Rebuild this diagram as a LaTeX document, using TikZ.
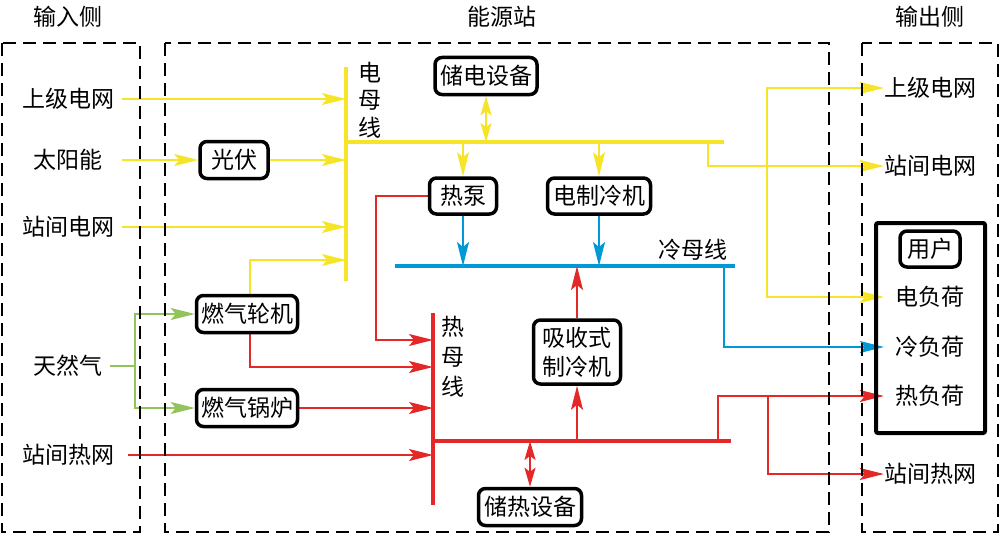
\documentclass[tikz,border=0pt]{standalone}
\usepackage{fontspec}
\newfontfamily\cjk{Noto Sans CJK SC}
\usetikzlibrary{arrows.meta,calc}
\pgfdeclarelayer{bg}
\pgfsetlayers{bg,main}
\definecolor{elec}{RGB}{246,228,40}
\definecolor{cold}{RGB}{0,153,214}
\definecolor{heat}{RGB}{228,40,40}
\definecolor{gas}{RGB}{146,196,92}
\begin{document}
\begin{tikzpicture}[x=1pt,y=-1pt,
  txt/.style={font=\cjk\fontsize{23}{27}\selectfont, inner sep=2pt},
  dev/.style={txt, draw=black, line width=3.5pt, rounded corners=7pt, fill=white, minimum height=37pt, inner sep=1pt},
  region/.style={draw=black, line width=1.5pt, dash pattern=on 13pt off 7pt},
  conn/.style={line width=2pt, -{Stealth[length=24pt,width=12pt,inset=5pt]}},
  dconn/.style={line width=2pt, {Stealth[length=19pt,width=11pt,inset=4pt]}-{Stealth[length=19pt,width=11pt,inset=4pt]}},
  bus/.style={line width=4.5pt},
  outl/.style={txt, minimum width=92pt, inner sep=0pt},
]
\useasboundingbox (0,0) rectangle (1000,535);

% regions
\draw[region] (2,43) rectangle (140,532);
\draw[region] (165,43) rectangle (829,532);
\draw[region] (862,43) rectangle (998,532);

% titles
\node[txt] (tin) at (68,17) {输入侧};
\node[txt] (tst) at (502,17) {能源站};
\node[txt] (tout) at (930,17) {输出侧};

% input labels
\node[txt, minimum width=108pt] (in1) at (68,99) {上级电网};
\node[txt, minimum width=108pt] (in2) at (68,160) {太阳能};
\node[txt, minimum width=108pt] (in3) at (68,227) {站间电网};
\node[txt, minimum width=84pt] (in4) at (68,366) {天然气};
\node[txt, minimum width=120pt] (in5) at (68,455) {站间热网};

% devices
\node[dev, minimum width=68pt] (pv) at (234,160) {光伏};
\node[dev, minimum width=101pt] (gt) at (247,314) {燃气轮机};
\node[dev, minimum width=101pt] (gb) at (247,408) {燃气锅炉};
\node[dev, minimum width=102pt] (es) at (486,76) {储电设备};
\node[dev, minimum width=67pt, minimum height=36pt] (hp) at (463,196) {热泵};
\node[dev, minimum width=103pt, minimum height=36pt] (ec) at (599,196) {电制冷机};
\node[dev, minimum width=87pt, minimum height=64pt, align=center, font=\cjk\fontsize{23}{29}\selectfont] (ac) at (577,352) {吸收式\\制冷机};
\node[dev, minimum width=103pt] (hs) at (530,507) {储热设备};

% bus labels
\node[txt, align=center, font=\cjk\fontsize{23}{27.5}\selectfont] (ebl) at (370,100) {电\\母\\线};
\node[txt, align=center, font=\cjk\fontsize{23}{30}\selectfont] (hbl) at (453,357) {热\\母\\线};
\node[txt] (cbl) at (693,250) {冷母线};

% output side
\node[outl] (o1) at (930,88) {上级电网};
\node[outl] (o2) at (930,166) {站间电网};
\node[draw=black, line width=4pt, rounded corners=2pt, minimum width=109pt, minimum height=210pt] (user) at (930.5,328) {};
\node[dev, minimum width=60pt, minimum height=36pt] (yh) at (930,249) {用户};
\node[outl] (l1) at (930,297) {电负荷};
\node[outl] (l2) at (930,347) {冷负荷};
\node[outl] (l3) at (930,396) {热负荷};
\node[outl] (o3) at (930,474) {站间热网};

% bus coordinates
\coordinate (ebT) at (346,67);
\coordinate (ebB) at (346,281);
\coordinate (ebJ) at (346,142);
\coordinate (ebR) at (724,142);
\coordinate (cbL) at (395,266);
\coordinate (cbR) at (735,266);
\coordinate (hbT) at (433,313);
\coordinate (hbB) at (433,505);
\coordinate (hbJ) at (433,441);
\coordinate (hbR) at (731,441);
\coordinate (gtE) at (346,260);
\coordinate (gtH) at (433,367);
\coordinate (hpc) at (376,340);
\coordinate (gs) at (135,366);
\coordinate (ybr) at (708,142);
\coordinate (yv) at (767,166);
\coordinate (cb1) at (724,266);
\coordinate (hb1) at (718,441);
\coordinate (hb2) at (768,396);

\begin{pgfonlayer}{bg}
% buses
\draw[elec,bus] (ebT) -- (ebB);
\draw[elec,bus] (ebJ) -- (ebR);
\draw[cold,bus] (cbL) -- (cbR);
\draw[heat,bus] (hbT) -- (hbB);
\draw[heat,bus] (hbJ) -- (hbR);

% electricity
\draw[elec,conn] (in1.east) -- (in1.east -| ebT);
\draw[elec,conn] (in2.east) -- (pv.west);
\draw[elec,conn] (pv.east) -- (pv.east -| ebT);
\draw[elec,conn] (in3.east) -- (in3.east -| ebT);
\draw[elec,conn] ([xshift=3pt]gt.north) |- (gtE);
\draw[elec,dconn] (es.south) -- (es.south |- ebJ);
\draw[elec,conn] (hp.north |- ebJ) -- (hp.north);
\draw[elec,conn] (ec.north |- ebJ) -- (ec.north);
\draw[elec,conn] (ybr) |- (o2.west);
\draw[elec,conn] (yv) |- (o1.west);
\draw[elec,conn] (yv) |- (l1.west);

% gas
\draw[gas,line width=2pt] (in4.east) -- (gs);
\draw[gas,conn] (gs) |- (gt.west);
\draw[gas,conn] (gs) |- (gb.west);

% cold
\draw[cold,conn] (hp.south) -- (hp.south |- cbL);
\draw[cold,conn] (ec.south) -- (ec.south |- cbL);
\draw[cold,conn] (cb1) |- (l2.west);

% heat
\draw[heat,conn] (hp.west) -| (hpc) -- (hpc -| hbT);
\draw[heat,conn] ([xshift=3pt]gt.south) |- (gtH);
\draw[heat,conn] (gb.east) -- (gb.east -| hbT);
\draw[heat,conn] (in5.east) -- (in5.east -| hbT);
\draw[heat,conn] (ac.south |- hbJ) -- (ac.south);
\draw[heat,conn] (ac.north) -- (ac.north |- cbL);
\draw[heat,dconn] (hs.north) -- (hs.north |- hbJ);
\draw[heat,conn] (hb1) |- (l3.west);
\draw[heat,conn] (hb2) |- (o3.west);
\end{pgfonlayer}
\end{tikzpicture}
\end{document}
